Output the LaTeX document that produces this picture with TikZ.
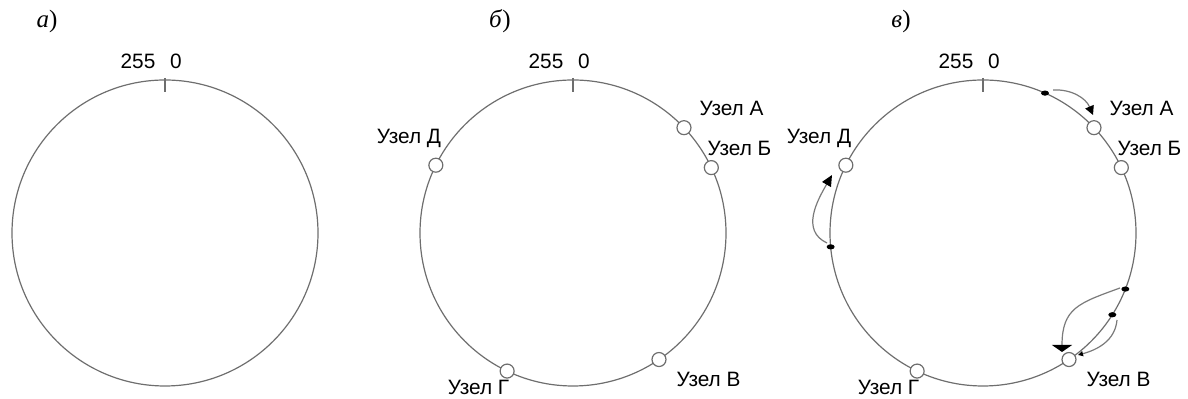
\documentclass[tikz,border=0pt]{standalone}
\usepackage{fontspec}
\setmainfont{Liberation Sans}
\newfontfamily\titlefont{Liberation Serif}
\usetikzlibrary{arrows.meta,calc,shapes.geometric}
\definecolor{ringgray}{HTML}{6E6E6E}
\definecolor{flowgray}{HTML}{7A7A7A}

\begin{document}
\begin{tikzpicture}[x=0.5pt,y=0.5pt,
  ring/.style={draw=ringgray, line width=0.6pt},
  tick/.style={draw=ringgray, line width=0.6pt},
  peer/.style={circle, draw=ringgray, fill=white, line width=0.6pt,
               minimum size=7pt, inner sep=0pt},
  keydot/.style={ellipse, fill=black, draw=none, minimum width=4pt,
                 minimum height=2.6pt, inner sep=0pt},
  lbl/.style={font=\fontsize{10.4}{12}\selectfont, inner sep=0pt, anchor=base},
  paneltitle/.style={font=\titlefont\fontsize{12.5}{14}\selectfont, inner sep=0pt, anchor=base},
  flow/.style={draw=flowgray, line width=0.6pt},
]
\useasboundingbox (0,0) rectangle (1188,399);

\def\R{153}

% ---------- panel a: empty ring ----------
\coordinate (ca) at (165,166);
\draw[ring] (ca) circle[radius=\R];
\draw[tick] ($(ca)+(0,\R+2)$) -- ($(ca)+(0,\R-12)$);
\node[lbl] (a255) at ($(ca)+(-27,164)$) {255};
\node[lbl] (a0)   at ($(ca)+(11,164)$) {0};
\node[paneltitle] (ta) at (47,371) {\itshape а\/\upshape)};

% ---------- panel b: ring with nodes ----------
\coordinate (cb) at (573,166);
\draw[ring] (cb) circle[radius=\R];
\draw[tick] ($(cb)+(0,\R+2)$) -- ($(cb)+(0,\R-12)$);
\node[lbl] (b255) at ($(cb)+(-27,164)$) {255};
\node[lbl] (b0)   at ($(cb)+(11,164)$) {0};
\node[paneltitle] (tb) at (500,371) {\itshape б\/\upshape)};

\node[peer] (bA) at ($(cb)+(43.5:\R)$) {};
\node[peer] (bB) at ($(cb)+(25.3:\R)$) {};
\node[peer] (bD) at ($(cb)+(153.7:\R)$) {};
\node[peer] (bG) at ($(cb)+(-115.5:\R)$) {};
\node[peer] (bV) at ($(cb)+(-55.8:\R)$) {};

\node[lbl] (lbA) at ($(cb)+(158.5,117)$) {Узел А};
\node[lbl] (lbB) at ($(cb)+(166.5,77)$)  {Узел Б};
\node[lbl] (lbD) at ($(cb)+(-164,89)$)   {Узел Д};
\node[lbl] (lbG) at ($(cb)+(-94.5,-162)$) {Узел Г};
\node[lbl] (lbV) at ($(cb)+(135.5,-154)$) {Узел В};

% ---------- panel c: ring with nodes and key transfers ----------
\coordinate (cc) at (983,166);
\draw[ring] (cc) circle[radius=\R];
\draw[tick] ($(cc)+(0,\R+2)$) -- ($(cc)+(0,\R-12)$);
\node[lbl] (c255) at ($(cc)+(-27,164)$) {255};
\node[lbl] (c0)   at ($(cc)+(11,164)$) {0};
\node[paneltitle] (tc) at (901,371) {\itshape в\/\upshape)};

\node[peer] (cA) at ($(cc)+(43.5:\R)$) {};
\node[peer] (cB) at ($(cc)+(25.3:\R)$) {};
\node[peer] (cD) at ($(cc)+(153.7:\R)$) {};
\node[peer] (cG) at ($(cc)+(-115.5:\R)$) {};
\node[peer] (cV) at ($(cc)+(-55.8:\R)$) {};

\node[lbl] (lcA) at ($(cc)+(158.5,117)$) {Узел А};
\node[lbl] (lcB) at ($(cc)+(166.5,77)$)  {Узел Б};
\node[lbl] (lcD) at ($(cc)+(-164,89)$)   {Узел Д};
\node[lbl] (lcG) at ($(cc)+(-94.5,-162)$) {Узел Г};
\node[lbl] (lcV) at ($(cc)+(135.5,-154)$) {Узел В};

% keys stored on the ring
\node[keydot] (k1) at ($(cc)+(66.1:\R)$) {};
\node[keydot] (k2) at ($(cc)+(185.2:\R)$) {};
\node[keydot] (k3) at ($(cc)+(-21.5:\R)$) {};
\node[keydot] (k4) at ($(cc)+(-32.3:\R)$) {};

% start and end points of the transfer arcs
\coordinate (s1) at ($(cc)+(70,143)$);
\coordinate (t1) at ($(cc)+(110,118)$);
\coordinate (s2) at ($(cc)+(-156,-10)$);
\coordinate (t2) at ($(cc)+(-151,58)$);
\coordinate (s3) at ($(cc)+(137,-55)$);
\coordinate (t3) at ($(cc)+(79,-119)$);
\coordinate (s4) at ($(cc)+(134,-87)$);
\coordinate (t4) at ($(cc)+(95,-122)$);

\draw[flow, -{Triangle[length=4.5pt,width=4.5pt,fill=black,color=black]}]
  (s1) to[bend left=35] (t1);
\draw[flow, -{Triangle[length=5.5pt,width=5pt,fill=black,color=black]}]
  (s2) to[out=155,in=240,looseness=1.1] (t2);
\draw[flow, -{Triangle[length=3.5pt,width=10pt,fill=black,color=black]}]
  (s3) to[out=200,in=90,looseness=1.3] (t3);
\draw[flow, -{Triangle[length=2.5pt,width=2.5pt,fill=black,color=black]}]
  (s4) to[out=265,in=15] (t4);
\end{tikzpicture}
\end{document}
